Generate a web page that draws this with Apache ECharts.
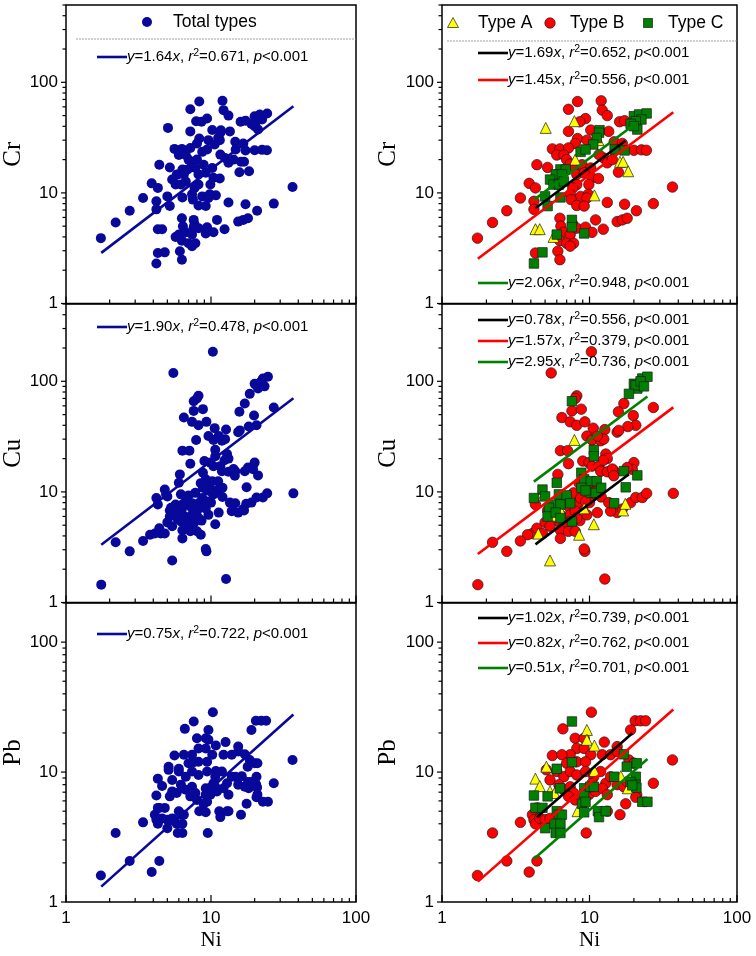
<!DOCTYPE html>
<html><head><meta charset="utf-8">
<script src="https://cdn.jsdelivr.net/npm/echarts@6/dist/echarts.min.js"></script>
<style>html,body{margin:0;padding:0;background:#fff}#c{width:756px;height:956px}</style>
</head><body><div id="c"></div>
<script>
// ---------------- DATA ----------------
const elements = ['Cr', 'Cu', 'Pb'];
const yAxisMax = [500, 500, 200];
const xTickValues = [1,2,3,4,5,6,7,8,9,10,20,30,40,50,60,70,80,90,100];
const yTickValuesTall = [1,2,3,4,5,6,7,8,9,10,20,30,40,50,60,70,80,90,100,200,300,400,500];
const yTickValuesShort = [1,2,3,4,5,6,7,8,9,10,20,30,40,50,60,70,80,90,100,200];

// [Ni, element] pairs, per type
const crTypeA = [[5.05,38.7],[7.9,44.5],[16.1,19.1],[16.9,19.1],[18.3,15.7],[10.8,9.5],[4.3,4.7],[4.6,4.7],[8.0,20],[11.5,30],[5.8,14.6],[5.7,4.0]];
const crTypeB = [[8.3,67],[12.0,68],[7.2,57],[12.2,56],[9.4,47],[13.2,50],[8.6,44],[16.0,44],[17.3,45],[7.2,36],[13.5,36],[10.2,37],[8.3,31],[9.6,30],[8.0,28],[14.7,29],[16.7,28],[5.6,25],[6.3,25],[7.2,25.5],[20.0,24.3],[22.5,24.5],[24.3,24.3],[6.0,22],[6.7,22],[4.4,18],[5.2,17],[7.0,20],[7.4,18.3],[7.8,16.8],[8.9,18],[10.2,16.8],[12.5,20.7],[13.2,18.7],[11.6,22.2],[14.3,20],[15.7,15.4],[8.2,14.7],[9.2,15.2],[10.4,13.7],[11.5,13.5],[3.9,12.2],[4.3,11.1],[4.2,8.4],[4.2,7.1],[3.4,9.0],[2.75,6.9],[2.2,5.4],[1.74,3.9],[8.2,11.9],[9.9,11.9],[7.7,11.1],[7.4,9.7],[8.7,9.3],[9.8,9.7],[7.5,8.7],[9.6,9.0],[8.2,7.7],[9.2,7.6],[13.2,8.2],[17.3,7.9],[20.8,6.9],[27.1,8.0],[36.5,11.3],[6.3,5.9],[6.4,5.0],[7.7,5.2],[6.7,4.4],[7.4,4.2],[6.3,3.7],[7.0,3.5],[7.8,3.5],[7.4,3.3],[8.2,4.8],[9.4,4.9],[10.4,4.4],[11.0,5.7],[12.4,4.7],[15.4,5.5],[16.7,5.7],[18.0,5.9],[4.3,2.86],[6.1,2.97],[6.3,2.49]];
const crTypeC = [[20.0,49.4],[21.7,51.2],[24.4,52.3],[22.5,46.1],[20.6,44.5],[19.0,42.1],[21.1,37.4],[20.0,40.1],[11.7,36.9],[11.6,35],[11.2,31.4],[10.6,27.4],[8.7,23.5],[9.4,24.7],[14.8,24.7],[17.3,24.2],[6.35,16.3],[6.9,16.3],[5.9,14.7],[6.5,14.7],[5.4,13.2],[5.7,11.9],[6.2,11.9],[6.7,12.7],[5.0,9.3],[5.2,7.6],[6.35,9.1],[6.0,4.2],[7.6,5.7],[7.6,4.9],[9.2,4.3],[4.8,2.9],[4.2,2.3]];

const cuTypeA = [[7.9,29.5],[4.9,9.4],[5.7,6.1],[10.7,5.1],[8.5,4.1],[5.4,2.4],[4.5,4.2],[9.2,7.1],[9.4,10.7],[16.9,6.8],[17.5,7.8],[6.3,7.0]];
const cuTypeB = [[10.3,185],[5.5,119],[8.2,74],[8.0,70],[7.6,54],[8.8,56],[6.5,47],[7.4,43],[8.2,40],[9.3,43],[10.6,37.7],[12.7,36.6],[17.1,63],[27.1,58],[15.7,53],[19.8,49],[20.6,40],[18.2,39],[15.4,34.7],[15.8,36],[6.35,23.6],[7.1,23.6],[9.6,32],[10.4,29.5],[11.9,29],[12.5,30],[11.3,32],[12.9,22],[13.2,20],[7.2,18],[9.0,19],[9.9,18.4],[10.4,17.1],[11.6,17.1],[12.4,19.3],[11.9,15.4],[14.7,15.4],[20.0,18.4],[19.5,16],[18.0,16.6],[13.2,15.2],[14.3,16.1],[14.6,14],[6.1,14.4],[8.5,12],[9.8,11],[11.2,10.5],[7.8,9.8],[10.4,9.5],[12.0,9.0],[9.0,7.2],[10.0,8.0],[4.3,7.7],[5.2,6.8],[5.6,6.2],[6.0,6.9],[6.6,6.0],[6.7,8.2],[7.2,7.4],[8.2,7.9],[8.7,8.8],[7.4,6.2],[8.0,6.7],[9.4,8.2],[8.6,5.5],[9.6,6.2],[11.3,6.5],[5.0,5.3],[5.9,5.7],[7.6,5.2],[6.2,5.4],[7.0,5.2],[8.2,5.8],[7.4,4.9],[6.7,4.9],[5.4,4.9],[6.35,4.5],[7.2,4.4],[8.0,4.4],[4.1,4.2],[3.8,4.1],[4.4,4.7],[4.8,4.2],[3.4,3.6],[2.75,2.9],[2.2,3.5],[1.75,1.45],[9.3,2.9],[9.2,3.05],[12.7,1.63],[6.35,3.8],[15.4,6.5],[16.7,7.0],[13.9,6.7],[13.5,8.0],[19,8.0],[20.6,8.9],[22.8,8.9],[24.4,9.7],[37,9.7]];
const cuTypeC = [[20.0,95],[22.8,106],[24.7,110],[21.1,86],[20.5,92],[18.5,77],[22.2,100],[23.4,90],[7.6,66],[10.7,24],[10.7,21],[17.1,15.4],[21.1,14.1],[17.6,11],[14.7,7.9],[8.8,14.9],[9.2,13],[10.2,12.5],[11.2,12.5],[8.8,10.9],[10.2,9.8],[11.0,9.8],[12.0,10.9],[9.4,10.3],[6.0,12.1],[4.8,10.5],[4.2,8.8],[5.0,9.1],[6.2,9.5],[7.0,9.3],[5.7,7.7],[6.35,7.7],[7.4,7.9],[5.3,7.2],[5.2,6.0],[5.9,6.5],[6.35,5.8],[7.6,5.4]];

const pbTypeA = [[9.6,21.1],[9.6,17.7],[10.8,16.0],[4.3,8.9],[4.6,7.8],[5.4,7.1],[5.8,6.9],[5.1,11.0],[10.8,10.2],[16.3,9.3],[18.2,7.5],[8.3,5.0]];
const pbTypeB = [[10.3,28.9],[6.6,21.5],[20.4,24.8],[22.2,24.8],[24.0,24.8],[19.0,21.1],[12.6,17.0],[15.4,15.7],[5.6,13.4],[5.1,10.4],[3.4,4.1],[2.2,3.4],[2.75,2.07],[1.74,1.6],[3.9,1.7],[4.4,2.07],[9.5,3.4],[16.1,4.7],[13.2,5.0],[36.5,12.4],[27.1,8.2],[20.9,6.7],[17.6,5.7],[20.6,6.4],[4.1,4.7],[4.2,4.3],[4.3,4.0],[8.0,18.2],[9.2,18.2],[8.2,15.2],[9.2,15.2],[10.2,13.6],[7.4,13.6],[6.5,13.6],[7.0,11.7],[8.2,12.0],[9.4,12.0],[12.2,13.6],[13.9,13.6],[15.4,14.4],[18.5,12.4],[20.0,11.7],[6.0,10.1],[6.7,9.2],[7.4,10.1],[8.2,9.5],[9.4,10.1],[10.7,9.2],[11.9,10.1],[12.9,8.2],[13.9,9.2],[15.4,8.0],[17.1,7.7],[18.0,8.4],[5.4,8.7],[6.2,8.0],[6.7,7.3],[7.4,7.7],[7.8,6.9],[7.2,6.5],[8.0,6.1],[9.9,6.7],[11.0,7.1],[12.2,7.5],[13.2,6.7],[10.4,8.2],[4.4,5.3],[4.6,4.4],[5.0,4.3],[5.4,4.4]];
const pbTypeC = [[7.6,24.5],[7.6,11.9],[6.0,10.6],[17.1,13.7],[17.9,11.0],[20.9,11.7],[20.6,9.2],[14.7,9.2],[19.0,8.4],[20.5,8.0],[20.8,7.6],[19.5,7.9],[22.8,5.9],[24.7,5.9],[4.2,6.6],[5.2,6.5],[4.3,5.3],[4.8,5.3],[5.0,3.7],[6.3,7.5],[6.0,5.0],[6.2,4.7],[6.5,4.7],[5.8,4.0],[6.35,4.0],[5.9,3.4],[6.35,3.4],[9.2,7.5],[9.2,6.7],[8.9,5.7],[9.4,5.9],[10.1,7.7],[10.7,7.7],[9.2,4.9],[11.4,5.0],[11.6,4.5],[12.9,5.0]];

// regression y = slope * x, drawn over the Ni range shown
const totalSlopes = [1.64, 1.90, 0.75];
const totalR2 = ['0.671', '0.478', '0.722'];
const totalFitRange = [1.75, 37];
const typeSlopes = [[1.69, 1.45, 2.06], [0.78, 1.57, 2.95], [1.02, 0.82, 0.51]];
const typeR2 = [['0.652','0.556','0.948'], ['0.556','0.379','0.736'], ['0.739','0.762','0.701']];
const typeFitRanges = [
  [[4.3,17.5],[1.75,37],[4.2,21]],
  [[4.3,18.5],[1.75,37],[4.2,24.7]],
  [[4.4,19.5],[1.75,37],[4.2,24.7]]
];
const typeNames = ['Type A', 'Type B', 'Type C'];
const legendTotal = 'Total types';

// ---------------- LAYOUT / STYLE ----------------
const colLeft = [66, 442], colWidth = [290, 295];
const rowTop = [5, 304, 603], rowHeight = [298.5, 298.5, 299];
const BLUE = '#08089a', RED = '#ff0000', GREEN = '#008000', YELLOW = '#ffff00', BLACK = '#000000';
const typeColors = [YELLOW, RED, GREEN];
const typeLineColors = [BLACK, RED, GREEN];
const typeSymbols = ['triangle', 'circle', 'rect'];
const typeSizes = [11, 10.5, 9.5];
const SANS = 'Liberation Sans', SERIF = 'Liberation Serif';
const leftEqY = [57, 327, 634];
const rightEqY = [[53, 80, 283], [320, 341, 362], [618, 643, 668]];

const dataByRow = [[crTypeA, crTypeB, crTypeC], [cuTypeA, cuTypeB, cuTypeC], [pbTypeA, pbTypeB, pbTypeC]];
const isDecade = v => Math.abs(Math.log10(v) - Math.round(Math.log10(v))) < 1e-6;

const grids = [], xAxes = [], yAxes = [], series = [], graphics = [];

function tickSeries(g, row) {
  const yTicks = yAxisMax[row] === 500 ? yTickValuesTall : yTickValuesShort;
  return {
    type: 'custom', xAxisIndex: g, yAxisIndex: g, clip: false, silent: true, z: 10,
    data: [[10, 10]],
    renderItem: function (params, api) {
      const ch = [];
      xTickValues.forEach(v => {
        const p = api.coord([v, 1]);
        const len = isDecade(v) ? 7 : 4;
        ch.push({type: 'line', shape: {x1: p[0], y1: p[1], x2: p[0], y2: p[1] - len}, style: {stroke: '#000', lineWidth: 1.2}});
      });
      yTicks.forEach(v => {
        const p = api.coord([1, v]);
        const len = isDecade(v) ? 5 : 3.5;
        ch.push({type: 'line', shape: {x1: p[0] - len, y1: p[1], x2: p[0], y2: p[1]}, style: {stroke: '#000', lineWidth: 1.2}});
      });
      return {type: 'group', children: ch};
    }
  };
}

function fitLine(slope, range) {
  return [[range[0], slope * range[0]], [range[1], slope * range[1]]];
}

function eqText(slope, r2) {
  return '{i|y}=' + slope.toFixed(2) + '{i|x}, {i|r}{s|2}=' + r2 + ', {i|p}<0.001';
}
const eqRich = {
  i: {fontStyle: 'italic', fontFamily: SANS, fontSize: 15, lineHeight: 18},
  s: {fontFamily: SANS, fontSize: 10.5, lineHeight: 9, verticalAlign: 'top'}
};
function addEq(xLine, y, color, slope, r2) {
  graphics.push({type: 'line', z: 20, shape: {x1: xLine, y1: y, x2: xLine + 30, y2: y}, style: {stroke: color, lineWidth: 2.6}});
  graphics.push({type: 'text', z: 20, x: xLine + 30, y: y, style: {text: eqText(slope, r2), rich: eqRich, fontFamily: SANS, fontSize: 15, lineHeight: 18, fill: '#000', align: 'left', verticalAlign: 'middle'}});
}

for (let row = 0; row < 3; row++) {
  for (let col = 0; col < 2; col++) {
    const g = row * 2 + col;
    grids.push({left: colLeft[col], top: rowTop[row], width: colWidth[col], height: rowHeight[row],
      show: true, borderColor: '#000', borderWidth: 1.5, backgroundColor: 'transparent', containLabel: false, outerBoundsMode: 'none'});
    const bottomRow = row === 2;
    xAxes.push({
      type: 'log', logBase: 10, gridIndex: g, min: 1, max: 100,
      axisLine: {show: false}, axisTick: {show: false}, splitLine: {show: false},
      axisLabel: {show: bottomRow, margin: 8, fontFamily: SANS, fontSize: 17, color: '#000',
        showMinLabel: true, showMaxLabel: true, formatter: v => isDecade(v) ? String(Math.round(v)) : ''},
      name: bottomRow ? 'Ni' : '', nameLocation: 'middle', nameGap: 28,
      nameTextStyle: {fontFamily: SERIF, fontSize: 21, color: '#000'}
    });
    yAxes.push({
      type: 'log', logBase: 10, gridIndex: g, min: 1, max: yAxisMax[row],
      axisLine: {show: false}, axisTick: {show: false}, splitLine: {show: false},
      axisLabel: {show: true, margin: 8, fontFamily: SANS, fontSize: 17, color: '#000',
        showMinLabel: true, showMaxLabel: true, formatter: v => (isDecade(v) && v <= 100) ? String(Math.round(v)) : ''},
      name: elements[row], nameLocation: 'middle', nameGap: col === 0 ? 32 : 41,
      nameTextStyle: {fontFamily: SERIF, fontSize: 25, color: '#000'}
    });
    const [A, B, C] = dataByRow[row];
    if (col === 0) {
      series.push({type: 'scatter', name: legendTotal, xAxisIndex: g, yAxisIndex: g, symbol: 'circle', symbolSize: 10,
        itemStyle: {color: BLUE, opacity: 1}, data: A.concat(B, C), z: 3});
      series.push({type: 'line', xAxisIndex: g, yAxisIndex: g, data: fitLine(totalSlopes[row], totalFitRange),
        symbol: 'none', lineStyle: {color: BLUE, width: 2.6}, z: 4, silent: true});
      addEq(97, leftEqY[row], BLUE, totalSlopes[row], totalR2[row]);
    } else {
      [1, 0, 2].forEach(t => {
        series.push({type: 'scatter', name: typeNames[t], xAxisIndex: g, yAxisIndex: g, symbol: typeSymbols[t], symbolSize: typeSizes[t],
          itemStyle: {color: typeColors[t], borderColor: '#1a1a1a', borderWidth: 0.7, opacity: 1}, data: dataByRow[row][t], z: 3});
      });
      [0, 1, 2].forEach(t => {
        series.push({type: 'line', xAxisIndex: g, yAxisIndex: g, data: fitLine(typeSlopes[row][t], typeFitRanges[row][t]),
          symbol: 'none', lineStyle: {color: typeLineColors[t], width: 2.6}, z: 4, silent: true});
        addEq(478, rightEqY[row][t], typeLineColors[t], typeSlopes[row][t], typeR2[row][t]);
      });
    }
    series.push(tickSeries(g, row));
  }
}

// legends (top panels)
graphics.push({type: 'circle', shape: {cx: 147, cy: 22, r: 5}, style: {fill: BLUE}});
graphics.push({type: 'text', x: 173, y: 22, style: {text: legendTotal, fontFamily: SANS, fontSize: 17.5, fill: '#000', align: 'left', verticalAlign: 'middle'}});
graphics.push({type: 'line', shape: {x1: 76, y1: 39, x2: 356, y2: 39}, style: {stroke: '#8a8a8a', lineWidth: 0.8, lineDash: [2, 1]}});

graphics.push({type: 'polygon', shape: {points: [[453, 17.5], [458.5, 27.5], [447.5, 27.5]]}, style: {fill: YELLOW, stroke: '#1a1a1a', lineWidth: 0.7}});
graphics.push({type: 'text', x: 478, y: 23, style: {text: typeNames[0], fontFamily: SANS, fontSize: 17.5, fill: '#000', align: 'left', verticalAlign: 'middle'}});
graphics.push({type: 'circle', shape: {cx: 550, cy: 23, r: 5.2}, style: {fill: RED, stroke: '#1a1a1a', lineWidth: 0.7}});
graphics.push({type: 'text', x: 570, y: 23, style: {text: typeNames[1], fontFamily: SANS, fontSize: 17.5, fill: '#000', align: 'left', verticalAlign: 'middle'}});
graphics.push({type: 'rect', shape: {x: 643.5, y: 18.5, width: 9, height: 9}, style: {fill: GREEN, stroke: '#1a1a1a', lineWidth: 0.7}});
graphics.push({type: 'text', x: 668, y: 23, style: {text: typeNames[2], fontFamily: SANS, fontSize: 17.5, fill: '#000', align: 'left', verticalAlign: 'middle'}});
graphics.push({type: 'line', shape: {x1: 447, y1: 41, x2: 737, y2: 41}, style: {stroke: '#8a8a8a', lineWidth: 0.8, lineDash: [2, 1]}});

const chart = echarts.init(document.getElementById('c'), null, {renderer: 'canvas'});
chart.setOption({
  animation: false,
  backgroundColor: '#fff',
  textStyle: {fontFamily: SANS},
  grid: grids, xAxis: xAxes, yAxis: yAxes, series: series, graphic: graphics
});
</script></body></html>
